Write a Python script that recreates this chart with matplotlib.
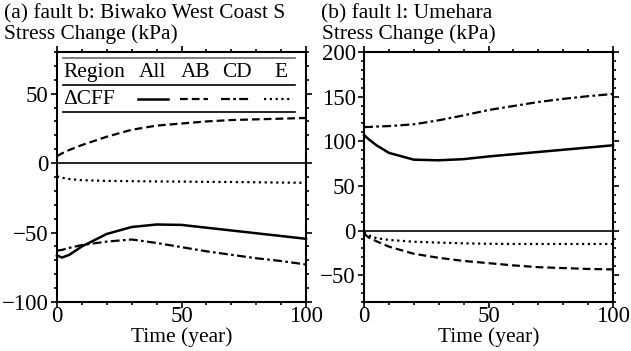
import matplotlib.pyplot as plt
import numpy as np
from matplotlib.lines import Line2D
from matplotlib.ticker import MultipleLocator

plt.rcParams['font.family'] = ['Liberation Serif', 'DejaVu Serif']

# time axis (years)
t = [0, 2, 5, 10, 20, 30, 40, 50, 60, 70, 80, 90, 100]

# (a) fault b: Biwako West Coast S
a_all = [-66.5, -68, -66, -60, -51, -46, -44.2, -44.5, -46.5, -48.5, -50.5, -52.5, -54.5]
a_ab = [5, 7, 9.5, 13, 19, 24, 27, 28.5, 30, 31, 31.5, 32, 32.5]
a_cd = [-63, -62.5, -61, -59, -56.5, -55, -57.5, -60.5, -63.5, -66, -68.5, -70.5, -73]
a_e = [-9.5, -10.5, -11.5, -12.3, -12.8, -13, -13.2, -13.3, -13.5, -13.6, -13.8, -14, -14.2]

# (b) fault l: Umehara
b_all = [107, 102, 95.5, 87, 79.4, 78.7, 80, 83, 85.5, 88, 90.5, 93, 95.5]
b_ab = [-3.5, -8, -12, -18, -26, -30.5, -34, -36.5, -39, -41, -42, -43, -43.5]
b_cd = [116, 116, 116.5, 117, 119, 123.5, 129, 135, 139.5, 144, 147.5, 150.5, 153]
b_e = [-2, -5.5, -8.5, -10.5, -12.5, -13.5, -14.3, -14.8, -15, -15, -15, -15, -15]

styles = {
    'All': dict(color='black', lw=1.8, ls='-'),
    'AB': dict(color='black', lw=1.6, ls=(0, (3.5, 1.8))),
    'CD': dict(color='black', lw=1.6, ls=(0, (4, 1.5, 1.2, 1.5))),
    'E': dict(color='black', lw=1.6, ls=(0, (1, 1.6))),
}

fs = 15.4
tfs = 16.5
fig = plt.figure(figsize=(6.31, 3.51), dpi=100)
ax1 = fig.add_axes([0.0903, 0.1396, 0.3947, 0.7123])
ax2 = fig.add_axes([0.5769, 0.1396, 0.3946, 0.7123])


def setup(ax, ylim, ymajor):
    ax.set_xlim(0, 100)
    ax.set_ylim(*ylim)
    ax.xaxis.set_major_locator(MultipleLocator(50))
    ax.xaxis.set_minor_locator(MultipleLocator(10))
    ax.yaxis.set_major_locator(MultipleLocator(ymajor))
    ax.yaxis.set_minor_locator(MultipleLocator(10))
    ax.tick_params(which='both', direction='out', top=True, right=True,
                   labelsize=tfs, width=1.2)
    ax.tick_params(which='major', length=4)
    ax.tick_params(which='minor', length=2.5)
    ax.tick_params(axis='y', pad=2)
    ax.tick_params(axis='x', pad=-1)
    for s in ax.spines.values():
        s.set_linewidth(1.5)
    ax.axhline(0, color='black', lw=1.2)
    ax.set_xlabel('Time (year)', fontsize=fs, labelpad=0)


setup(ax1, (-100, 80), 50)
setup(ax2, (-80, 200), 50)
ax1.set_yticks([-100, -50, 0, 50])
ax1.set_yticklabels(['\u2212100', '\u221250', '0', '50'])
ax2.set_yticks([-50, 0, 50, 100, 150, 200])
ax2.set_yticklabels(['\u221250', '0', '50', '100', '150', '200'])

for ax, series in [(ax1, [a_all, a_ab, a_cd, a_e]), (ax2, [b_all, b_ab, b_cd, b_e])]:
    for key, vals in zip(['All', 'AB', 'CD', 'E'], series):
        ax.plot(t, vals, **styles[key], clip_on=False, zorder=3)

fig.text(0.006, 0.962, '(a) fault b: Biwako West Coast S', fontsize=fs, va='center')
fig.text(0.006, 0.902, 'Stress Change (kPa)', fontsize=fs, va='center')
fig.text(0.508, 0.962, '(b) fault l: Umehara', fontsize=fs, va='center')
fig.text(0.510, 0.902, 'Stress Change (kPa)', fontsize=fs, va='center')

# legend table in panel (a)
tr = ax1.transAxes
for yy, c in [(0.976, '0.4'), (0.868, 'black'), (0.761, 'black')]:
    ax1.add_line(Line2D([0.024, 0.956], [yy, yy], color=c, lw=1.2, transform=tr))
ax1.text(0.024, 0.916, 'Region', fontsize=fs, va='center', transform=tr)
for lab, xc in [('All', 0.382), ('AB', 0.556), ('CD', 0.723), ('E', 0.90)]:
    ax1.text(xc, 0.916, lab, fontsize=fs, va='center', ha='center', transform=tr)
ax1.text(0.024, 0.81, '\u0394CFF', fontsize=fs, va='center', transform=tr)
for key, (x0, x1) in [('All', (0.324, 0.447)), ('AB', (0.494, 0.606)),
                      ('CD', (0.658, 0.773)), ('E', (0.831, 0.946))]:
    ax1.add_line(Line2D([x0, x1], [0.812, 0.812], transform=tr, **styles[key]))

fig.savefig('out.png', dpi=100)
